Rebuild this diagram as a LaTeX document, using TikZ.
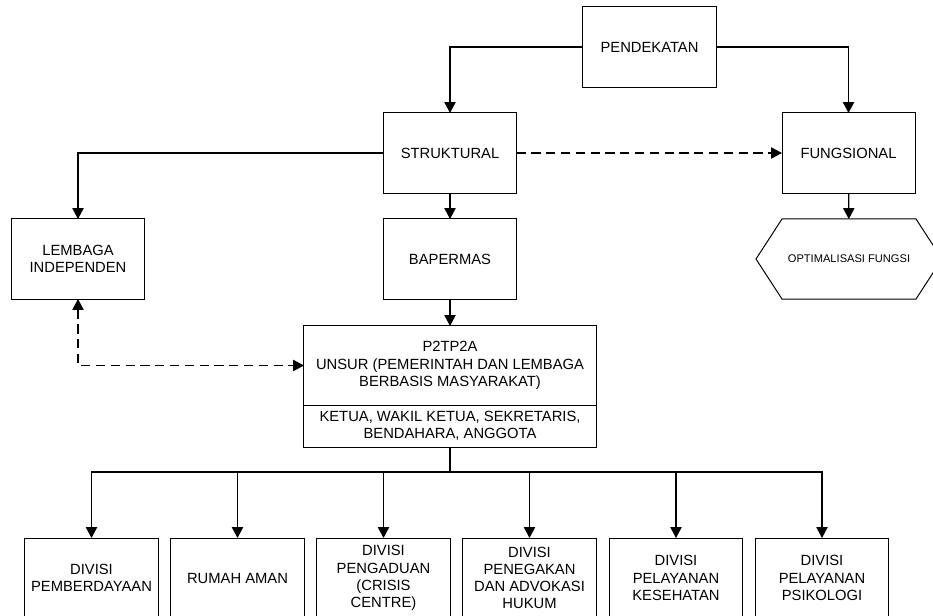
\documentclass[tikz,border=0pt]{standalone}
\usepackage{fontspec}
\setmainfont{Liberation Sans}
\usetikzlibrary{arrows.meta}
\begin{document}
\begin{tikzpicture}[x=0.025cm,y=-0.025cm,
	box/.style={draw,line width=0.7pt,minimum width=3.325cm,minimum height=2cm,inner sep=2pt,outer sep=0pt,align=center},
	link/.style={line width=0.9pt,-{Triangle[length=2.7mm,width=2.8mm]}},
	dashlink/.style={line width=0.9pt,dash pattern=on 2.3mm off 1.4mm}]
\fontsize{10.5}{12.2}\selectfont
\useasboundingbox (0,0) rectangle (933,616);
\def\ybus{472}
\def\ydiv{578}
\node[box] (pend) at (649.5,47) {PENDEKATAN};
\node[box] (struk) at (450,153) {STRUKTURAL};
\node[box] (fung) at (848.5,153) {FUNGSIONAL};
\node[box] (lemb) at (78,259) {LEMBAGA\\INDEPENDEN};
\node[box] (baper) at (450,259) {BAPERMAS};
\node[minimum width=3.35cm,minimum height=2cm,outer sep=0pt,font=\fontsize{7.9}{9}\selectfont] (optim) at (849,259) {OPTIMALISASI FUNGSI};
\draw[line width=0.7pt] (optim.north west) -- (optim.north east) -- ++(26,40) -- (optim.south east)
	-- (optim.south west) -- ++(-26,-40) -- cycle;
\node[box,minimum width=7.3cm,minimum height=1.975cm] (ptop) at (450,365.5)
	{P2TP2A\\UNSUR (PEMERINTAH DAN LEMBAGA\\BERBASIS MASYARAKAT)};
\node[box,minimum width=7.3cm,minimum height=1.05cm,anchor=north] (pbot) at (ptop.south)
	{KETUA, WAKIL KETUA, SEKRETARIS,\\BENDAHARA, ANGGOTA};
\foreach \n/\x/\lbl in {1/91.5/{DIVISI\\PEMBERDAYAAN},2/237.5/{RUMAH AMAN},
	3/383.5/{DIVISI\\PENGADUAN\\(CRISIS\\CENTRE)},4/529.5/{DIVISI\\PENEGAKAN\\DAN ADVOKASI\\HUKUM},
	5/676/{DIVISI\\PELAYANAN\\KESEHATAN},6/822/{DIVISI\\PELAYANAN\\PSIKOLOGI}} {
	\node[box] (div\n) at (\x,\ydiv) {\lbl};
}
\draw[link] (pend.west) -| (struk.north);
\draw[link] (pend.east) -| (fung.north);
\draw[link] (struk.west) -| (lemb.north);
\draw[link] (struk) -- (baper);
\draw[link,dashlink] (struk.east) -- (fung.west);
\draw[link] (fung) -- (optim);
\draw[link] (baper) -- (ptop);
\draw[dashlink,{Triangle[length=2.7mm,width=2.8mm]}-{Triangle[length=2.7mm,width=2.8mm]}] (lemb.south) |- (ptop.west);
\coordinate (bus) at (450,\ybus);
\draw[line width=0.9pt] (pbot.south) -- (bus);
\foreach \n in {1,...,6}
	\draw[link] (bus) -| (div\n.north);
\end{tikzpicture}
\end{document}
